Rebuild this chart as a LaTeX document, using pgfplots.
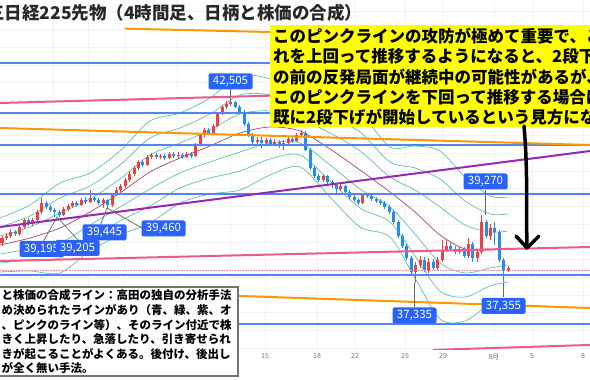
\documentclass[border=0pt]{standalone}
\usepackage{fontspec}
\setmainfont{Noto Sans CJK JP}
\usepackage{pgfplots}
\pgfplotsset{compat=1.18}
\usepackage{pgfplotstable}
\definecolor{candred}{RGB}{239,64,64}
\definecolor{candblue}{RGB}{33,140,243}
\definecolor{bbteal}{RGB}{96,190,178}
\definecolor{mamaroon}{RGB}{165,70,115}
\definecolor{hblue}{RGB}{82,132,245}
\definecolor{lpink}{RGB}{236,90,140}
\definecolor{lorange}{RGB}{255,152,0}
\definecolor{lpurple}{RGB}{150,40,180}
\definecolor{lblbg}{RGB}{41,98,255}
\definecolor{tickgray}{RGB}{110,114,125}
\definecolor{titlecol}{RGB}{40,40,40}
\definecolor{ylw}{RGB}{255,255,0}

\pgfplotstableread{
x o h l c
2.0 38465 38663 38381 38607
6.4 38607 38748 38550 38663
10.8 38663 38861 38607 38776
19.6 38720 38974 38663 38917
24.0 38917 39172 38861 39115
32.8 39002 39172 38946 39115
37.2 39115 39398 39059 39341
41.6 39341 39737 39285 39595
63.6 39256 39482 39228 39426
68.0 39426 39567 39369 39511
72.4 39511 39652 39454 39595
81.2 39539 39737 39511 39680
90.0 39624 39963 39595 39737
103.2 39595 39737 39460 39680
112.0 39539 39850 39482 39821
116.4 39821 40047 39793 39963
120.8 39963 40132 39906 40076
125.2 40076 40302 40019 40245
129.6 40245 40499 40189 40415
134.0 40415 40641 40358 40584
138.4 40584 40810 40528 40754
147.2 40669 40951 40641 40895
151.6 40895 41008 40838 40951
160.4 40895 40980 40838 40923
169.2 40867 41036 40838 40980
178.0 40923 41036 40867 40951
186.8 40895 41036 40867 40980
195.6 40923 41290 40895 41234
200.0 41234 41573 41206 41516
204.4 41516 41714 41460 41658
213.2 41573 41827 41545 41771
217.6 41771 42166 41742 42110
222.0 42110 42364 42081 42307
226.4 42307 42477 42251 42392
230.8 42392 42505 42336 42449
257.2 41319 41460 41234 41375
266.0 41290 41432 41234 41375
274.8 41262 41403 41206 41319
283.6 41206 41375 41093 41290
288.0 41290 41460 41234 41403
296.8 41347 41573 41319 41516
301.2 41516 41658 41460 41573
323.2 40245 40415 40189 40358
340.8 39991 40132 39934 40076
362.8 39595 39878 39567 39821
415.6 37646 37929 37335 37844
420.0 37844 38098 37759 37985
428.8 37703 38042 37618 37929
437.6 37759 38070 37703 37985
442.0 37985 38550 37929 38268
446.4 38268 38550 38211 38381
459.6 38211 38352 38155 38268
468.4 38098 38607 38042 38437
477.2 38042 38296 37929 38211
481.6 38211 39270 38155 39059
490.4 38663 39002 38550 38889
508.0 37703 37816 37646 37759
}\upc

\pgfplotstableread{
x o h l c
15.2 38776 38833 38663 38720
28.4 39115 39172 38946 39002
46.0 39595 39652 39426 39482
50.4 39482 39539 39341 39398
54.8 39398 39454 39205 39341
59.2 39341 39398 39195 39256
76.8 39595 39652 39482 39539
85.6 39680 39765 39567 39624
94.4 39737 39793 39624 39680
98.8 39680 39737 39539 39595
107.6 39680 39708 39445 39539
142.8 40754 40810 40612 40669
156.0 40951 41008 40838 40895
164.8 40923 40980 40810 40867
173.6 40980 41036 40867 40923
182.4 40951 41008 40838 40895
191.2 40980 41036 40867 40923
208.8 41658 41714 41516 41573
235.2 42449 42477 42279 42307
239.6 42307 42364 42110 42166
244.0 42166 42223 41771 41827
248.4 41827 41884 41460 41516
252.8 41516 41573 41262 41319
261.6 41375 41460 41149 41290
270.4 41375 41432 41206 41262
279.2 41319 41375 41149 41206
292.4 41403 41488 41290 41347
305.6 41573 41629 41064 41093
310.0 41093 41149 40528 40584
314.4 40584 40641 40302 40358
318.8 40358 40415 40189 40245
327.6 40358 40386 40132 40189
332.0 40189 40245 40019 40104
336.4 40104 40160 39878 39991
345.2 40076 40104 39850 39906
349.6 39906 39963 39708 39765
354.0 39765 39821 39624 39680
358.4 39680 39737 39539 39595
367.2 39821 39878 39737 39793
371.6 39793 39850 39652 39708
376.0 39708 39765 39595 39652
380.4 39652 39708 39539 39595
384.8 39595 39652 39426 39482
389.2 39482 39539 39285 39341
393.6 39341 39398 39002 39059
398.0 39059 39115 38607 38663
402.4 38663 38720 38324 38381
406.8 38381 38437 37985 38042
411.2 38042 38098 37561 37646
424.4 37985 38070 37646 37703
433.2 37929 38013 37703 37759
450.8 38381 38465 38239 38296
455.2 38296 38381 38155 38211
464.0 38268 38352 38042 38098
472.8 38437 38494 37929 38042
486.0 39059 39115 38607 38663
494.8 38889 39059 38409 38776
499.2 38776 38833 37929 37985
503.6 37985 38042 37355 37703
}\dnc

\pgfplotstableread{
x u3 u2 u1 m l1 l2 l3
0 39172 38917 38663 38409 38155 37900 37646
30 39539 39228 38917 38607 38296 37985 37674
60 40160 39737 39313 38889 38465 38042 37618
90 40443 40076 39708 39341 38974 38607 38239
120 41064 40669 40273 39878 39482 39087 38691
150 41912 41432 40951 40471 39991 39511 39030
180 42138 41714 41290 40867 40443 40019 39595
210 42562 42110 41658 41206 40754 40302 39850
240 43183 42646 42110 41573 41036 40499 39963
270 43098 42646 42194 41742 41290 40838 40386
300 42646 42307 41968 41629 41290 40951 40612
330 42477 42025 41573 41121 40669 40217 39765
360 42138 41601 41064 40528 39991 39454 38917
390 41177 40754 40330 39906 39482 39059 38635
415 41206 40584 39963 39341 38720 38098 37477
440 41064 40273 39482 38691 37900 37109 36318
465 40330 39652 38974 38296 37618 36940 36262
490 39793 39285 38776 38268 37759 37251 36742
508 39765 39285 38804 38324 37844 37364 36883
}\bb

\begin{document}
\begin{tikzpicture}
\path[use as bounding box] (0pt,0pt) rectangle (590pt,380pt);
\clip (0pt,0pt) rectangle (590pt,380pt);
\begin{axis}[
  at={(0pt,30pt)}, anchor=south west,
  width=590pt, height=350pt, scale only axis,
  xmin=0, xmax=590, ymin=35442.5, ymax=45330,
  axis line style={draw=none},
  major tick length=0pt,
  xtick={265,317,355,405,443,494,532,583},
  xticklabels={15,18,22,25,29,8月,5,8},
  extra x ticks={53,88,124,177,230},
  extra x tick labels={},
  extra x tick style={grid=major},
  ytick={35500,36000,...,45000},
  yticklabel=\empty,
  grid=major,
  grid style={black!5, line width=0.5pt},
  xticklabel style={font=\fontsize{7}{7}\selectfont, text=tickgray},
]
% Bollinger bands
\foreach \col in {u3,u2,u1,l1,l2,l3}{
  \addplot[bbteal, line width=0.7pt, smooth, tension=0.5, mark=none] table[x=x,y=\col] {\bb};
}
\addplot[mamaroon, line width=0.7pt, smooth, tension=0.5, mark=none] table[x=x,y=m] {\bb};
% candles: wicks
\addplot[draw=none, mark=none, error bars/.cd, y dir=both, y explicit, error mark=none,
  error bar style={draw=candred, line width=0.8pt}]
  table[x=x, y=o, y error plus expr=\thisrow{h}-\thisrow{o}, y error minus expr=\thisrow{o}-\thisrow{l}] {\upc};
\addplot[draw=none, mark=none, error bars/.cd, y dir=both, y explicit, error mark=none,
  error bar style={draw=candblue, line width=0.8pt}]
  table[x=x, y=o, y error plus expr=\thisrow{h}-\thisrow{o}, y error minus expr=\thisrow{o}-\thisrow{l}] {\dnc};
% candles: bodies
\addplot[draw=none, mark=none, error bars/.cd, y dir=plus, y explicit, error mark=none,
  error bar style={draw=candred, line width=3pt}]
  table[x=x, y=o, y error plus expr=\thisrow{c}-\thisrow{o}] {\upc};
\addplot[draw=none, mark=none, error bars/.cd, y dir=plus, y explicit, error mark=none,
  error bar style={draw=candblue, line width=3pt}]
  table[x=x, y=c, y error plus expr=\thisrow{o}-\thisrow{c}] {\dnc};
% current price dotted line
\addplot[candred!60, line width=0.6pt, densely dotted] coordinates {(0,37703) (590,37703)};
% blue horizontal lines
\addplot[hblue, line width=1.6pt] coordinates {(0,43550) (590,43550)};
\addplot[hblue, line width=1.6pt] coordinates {(0,42138) (590,42138)};
\addplot[hblue, line width=1.6pt] coordinates {(0,41234) (590,41234)};
\addplot[hblue, line width=1.6pt] coordinates {(0,39850) (590,39850)};
\addplot[hblue, line width=1.6pt] coordinates {(0,37561) (590,37561)};
\addplot[hblue, line width=1.6pt] coordinates {(0,36177) (590,36177)};
% orange lines
\addplot[lorange, line width=2pt] coordinates {(125,44520) (590,44217)};
\addplot[lorange, line width=2pt] coordinates {(0,41714) (590,41234)};
\addplot[lorange, line width=2pt] coordinates {(0,37203) (590,36629)};
% pink lines
\addplot[lpink, line width=2pt] coordinates {(0,42420) (590,42872)};
\addplot[lpink, line width=2pt] coordinates {(0,37957) (590,38352)};
\addplot[lpink, line width=2pt] coordinates {(433,35445) (590,35585)};
% purple line
\addplot[lpurple, line width=2pt] coordinates {(0,38917) (590,41064)};
\end{axis}

\begin{scope}[x=1pt, y=-1pt, shift={(0pt,380pt)}]
% title
\node[anchor=west, inner sep=0pt, text=titlecol, font=\bfseries\fontsize{17.5}{17.5}\selectfont] at (-13,13) {三日経225先物（4時間足、日柄と株価の合成）};
% yellow box
\fill[ylw] (270,25) rectangle (600,127);
\foreach \yy/\tx in {36/このピンクラインの攻防が極めて重要で、こ,
  56.5/れを上回って推移するようになると、2段下げ,
  77/の前の反発局面が継続中の可能性があるが、,
  97/このピンクラインを下回って推移する場合は、,
  117/既に2段下げが開始しているという見方になる。}{
  \node[anchor=west, inner sep=0pt, font=\bfseries\fontsize{16.5}{16.5}\selectfont] at (273,\yy) {\tx};
}
% lower-left text box
\draw[fill=white, draw=black!55, line width=1.5pt] (-5,287) rectangle (238,376);
\foreach \yy/\tx in {295/と株価の合成ライン：高田の独自の分析手法,
  310/め決められたラインがあり（青、緑、紫、オ,
  325/、ピンクのライン等）、そのライン付近で株,
  339.5/きく上昇したり、急落したり、引き寄せられ,
  354/きが起こることがよくある。後付け、後出し,
  368/が全く無い手法。}{
  \node[anchor=west, inner sep=0pt, font=\bfseries\fontsize{11.5}{11.5}\selectfont] at (1.5,\yy) {\tx};
}
% leader lines
\draw[black!60, line width=0.7pt] (230.5,89) -- (230.5,100);
\draw[black!60, line width=0.7pt] (43,242) -- (57,217) -- (78,240);
\draw[black!60, line width=0.7pt] (100,226) -- (107,208) -- (142,228);
\draw[black!60, line width=0.7pt] (485.5,190) -- (485.5,215);
\draw[black!60, line width=0.7pt] (414.5,307) -- (414.5,283);
\draw[black!60, line width=0.7pt] (503.5,297) -- (503.5,283);
% price labels
\tikzset{plbl/.style={fill=lblbg, text=white, rounded corners=2pt, inner sep=0pt,
  minimum width=44pt, minimum height=16pt, font=\fontsize{11.5}{11.5}\selectfont}}
\node[plbl] at (230.5,81.5) {42,505};
\node[plbl] at (41.5,249) {39,195};
\node[plbl] at (77.5,248) {39,205};
\node[plbl] at (104.5,232.5) {39,445};
\node[plbl] at (163.5,228.5) {39,460};
\node[plbl] at (485.5,181.5) {39,270};
\node[plbl] at (414.5,315.5) {37,335};
\node[plbl] at (503.5,306) {37,355};
% black arrow
\draw[line width=3.5pt, line cap=round, line join=round] (524,126) .. controls (528,170) and (526,210) .. (527,247);
\draw[line width=3.5pt, line cap=round, line join=round] (516,236) -- (527,248) -- (539,236);
\end{scope}
\end{tikzpicture}
\end{document}
